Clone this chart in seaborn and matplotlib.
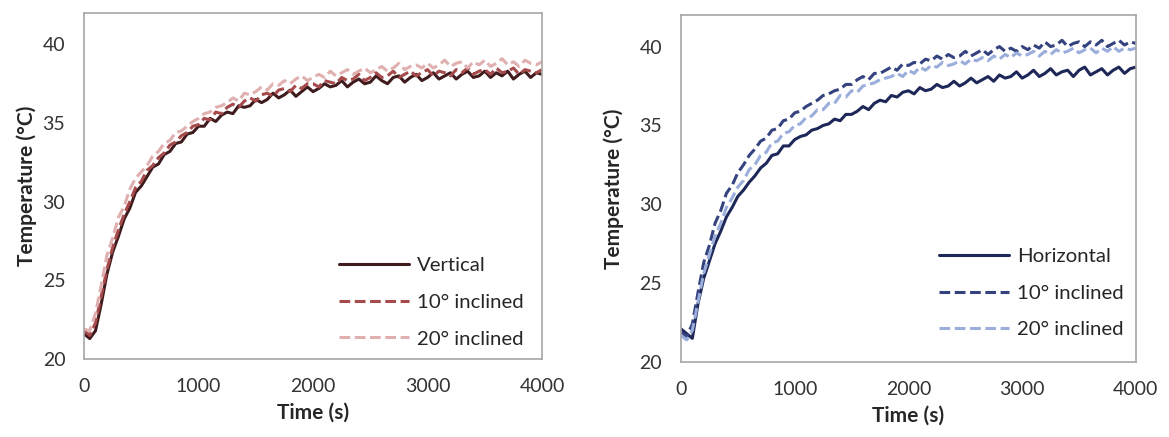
import matplotlib
matplotlib.use("Agg")
import matplotlib.pyplot as plt
import seaborn as sns
import pandas as pd

# sample times (s), one reading every 50 s
time_s = list(range(0, 4001, 50))

# left panel
vertical = [21.6, 21.3, 21.8, 23.5, 25.4, 26.8, 27.8, 28.9, 29.6, 30.6,
            31.0, 31.6, 32.2, 32.4, 33.0, 33.2, 33.7, 33.8, 34.3, 34.4,
            34.8, 34.8, 35.3, 35.1, 35.5, 35.7, 35.6, 36.1, 36.0, 36.1,
            36.5, 36.3, 36.5, 36.9, 36.6, 36.8, 37.1, 36.7, 37.0, 37.3,
            37.0, 37.2, 37.5, 37.3, 37.4, 37.7, 37.3, 37.6, 37.8, 37.5,
            37.6, 38.0, 37.7, 37.5, 37.9, 38.0, 37.6, 37.9, 38.1, 37.7,
            37.9, 38.2, 37.8, 38.0, 38.2, 37.8, 38.1, 38.3, 37.9, 38.0,
            38.3, 37.9, 38.2, 38.0, 38.3, 37.8, 38.1, 38.3, 37.9, 38.2,
            38.1]
vert_10 = [21.8, 21.5, 22.3, 24.0, 25.7, 27.1, 28.2, 29.2, 30.0, 30.9,
           31.3, 32.0, 32.3, 32.8, 33.1, 33.6, 33.8, 34.2, 34.4, 34.8,
           34.9, 35.3, 35.2, 35.7, 35.6, 36.0, 36.2, 36.0, 36.4, 36.6,
           36.4, 36.8, 36.9, 36.7, 37.1, 37.2, 37.0, 37.4, 37.2, 37.5,
           37.5, 37.3, 37.7, 37.6, 37.5, 37.9, 37.7, 37.8, 38.1, 37.7,
           37.9, 38.2, 37.9, 38.0, 38.3, 37.9, 38.1, 38.3, 38.0, 38.2,
           38.4, 38.0, 38.3, 38.2, 38.0, 38.4, 38.2, 38.5, 38.1, 38.3,
           38.4, 38.1, 38.5, 38.2, 38.3, 38.5, 38.1, 38.4, 38.3, 38.2,
           38.4]
vert_20 = [21.9, 21.8, 22.9, 24.7, 26.6, 27.7, 29.0, 29.7, 30.8, 31.5,
           31.9, 32.3, 32.9, 33.2, 33.7, 33.9, 34.4, 34.5, 34.8, 35.1,
           35.3, 35.6, 35.7, 36.0, 36.1, 36.3, 36.6, 36.4, 36.9, 36.8,
           37.0, 37.3, 37.1, 37.5, 37.4, 37.7, 37.5, 37.8, 38.0, 37.7,
           37.9, 38.1, 37.9, 38.3, 38.0, 38.2, 38.4, 38.1, 38.3, 38.5,
           38.2, 38.4, 38.6, 38.3, 38.5, 38.8, 38.4, 38.6, 38.7, 38.5,
           38.8, 38.5, 38.7, 39.0, 38.6, 38.8, 38.9, 38.5, 38.9, 38.7,
           39.0, 38.6, 38.8, 39.1, 38.7, 38.9, 38.6, 39.0, 38.8, 38.7,
           38.9]

# right panel
horizontal = [22.1, 21.8, 21.5, 23.7, 25.3, 26.4, 27.5, 28.3, 29.2, 29.8,
              30.5, 30.9, 31.4, 31.8, 32.3, 32.6, 33.1, 33.2, 33.7, 33.7,
              34.1, 34.3, 34.4, 34.7, 34.8, 35.0, 35.1, 35.4, 35.3, 35.7,
              35.7, 35.9, 36.2, 36.0, 36.4, 36.6, 36.5, 36.9, 36.8, 37.1,
              37.2, 37.0, 37.4, 37.2, 37.3, 37.6, 37.4, 37.5, 37.8, 37.5,
              37.7, 38.0, 37.7, 37.9, 38.1, 37.8, 38.2, 38.0, 38.1, 38.4,
              38.0, 38.2, 38.5, 38.1, 38.3, 38.6, 38.2, 38.4, 38.5, 38.1,
              38.5, 38.7, 38.2, 38.4, 38.6, 38.2, 38.5, 38.7, 38.3, 38.6,
              38.7]
horiz_10 = [21.9, 21.6, 22.4, 24.4, 26.3, 27.4, 28.8, 29.6, 30.7, 31.2,
            32.0, 32.5, 33.1, 33.5, 34.0, 34.2, 34.7, 34.8, 35.3, 35.4,
            35.8, 35.9, 36.2, 36.4, 36.6, 36.9, 37.0, 37.2, 37.3, 37.6,
            37.6, 37.9, 38.1, 37.9, 38.3, 38.3, 38.5, 38.7, 38.5, 38.9,
            38.8, 39.0, 38.9, 39.2, 39.1, 39.4, 39.2, 39.5, 39.3, 39.4,
            39.7, 39.4, 39.6, 39.8, 39.5, 39.8, 40.0, 39.7, 39.9, 39.7,
            40.0, 39.8, 40.1, 39.9, 40.3, 40.0, 40.1, 40.4, 40.0, 40.2,
            40.3, 40.0, 40.3, 40.1, 40.4, 40.0, 40.2, 40.4, 40.1, 40.3,
            40.2]
horiz_20 = [21.7, 21.4, 22.0, 23.8, 25.6, 26.8, 28.0, 28.8, 29.8, 30.4,
            31.1, 31.5, 32.2, 32.5, 33.1, 33.3, 33.9, 34.0, 34.5, 34.6,
            35.0, 35.1, 35.5, 35.6, 36.0, 36.0, 36.4, 36.4, 36.9, 36.8,
            37.2, 37.1, 37.5, 37.6, 37.7, 37.9, 38.0, 38.1, 38.3, 38.1,
            38.5, 38.3, 38.7, 38.5, 38.8, 38.7, 39.0, 38.8, 38.9, 39.1,
            38.9, 39.2, 39.1, 39.3, 39.1, 39.4, 39.2, 39.5, 39.3, 39.6,
            39.4, 39.5, 39.7, 39.4, 39.7, 39.5, 39.8, 39.6, 39.7, 39.9,
            39.6, 39.8, 39.9, 39.6, 39.9, 39.7, 40.0, 39.7, 39.9, 39.8,
            39.9]

x_ticks = [0, 1000, 2000, 3000, 4000]
y_ticks = [20, 25, 30, 35, 40]

sns.set_style("white")
plt.rcParams['font.family'] = ['Lato', 'DejaVu Sans']

fig = plt.figure(figsize=(11.69, 4.37), dpi=100)
ax1 = fig.add_axes([0.0719, 0.1785, 0.3918, 0.7918])
ax2 = fig.add_axes([0.5825, 0.1716, 0.3892, 0.7940])

dash = (0, (3.5, 1.5))
left = [("Vertical", vertical, "#3f1b1d", "-"),
        ("10° inclined", vert_10, "#a64a4c", dash),
        ("20° inclined", vert_20, "#e0b0b0", dash)]
right = [("Horizontal", horizontal, "#1e2858", "-"),
         ("10° inclined", horiz_10, "#34437f", dash),
         ("20° inclined", horiz_20, "#9aaddb", dash)]

panels = [(ax1, left, 4, (1.0, -0.02)), (ax2, right, 11, (1.013, 0.015))]
for ax, series, ylpad, anchor in panels:
    for name, vals, col, ls in series:
        df = pd.DataFrame({"t": time_s, "T": vals})
        sns.lineplot(data=df, x="t", y="T", ax=ax, color=col, linestyle=ls,
                     linewidth=2.2, label=name)
    ax.set_xlim(0, 4000)
    ax.set_ylim(20, 42)
    ax.set_xticks(x_ticks)
    ax.set_yticks(y_ticks)
    ax.set_xlabel("Time (s)", fontsize=15, fontweight="bold", color="#262626",
                  labelpad=5)
    ax.set_ylabel("Temperature (°C)", fontsize=15, fontweight="bold",
                  color="#262626", labelpad=ylpad)
    ax.tick_params(axis="x", direction="out", length=3, width=1,
                   color="#a6a6a6", labelsize=14, labelcolor="#333333", pad=11)
    ax.tick_params(axis="y", direction="out", length=4.5, width=1,
                   color="#a6a6a6", labelsize=14, labelcolor="#333333", pad=9)
    for sp in ax.spines.values():
        sp.set_color("#a6a6a6")
        sp.set_linewidth(1.2)
    ax.legend(loc="lower right", bbox_to_anchor=anchor, frameon=False,
              fontsize=14.7, handlelength=3.4, handletextpad=0.4,
              labelspacing=0.95, borderaxespad=0.5)

fig.savefig("out.png", dpi=100)
